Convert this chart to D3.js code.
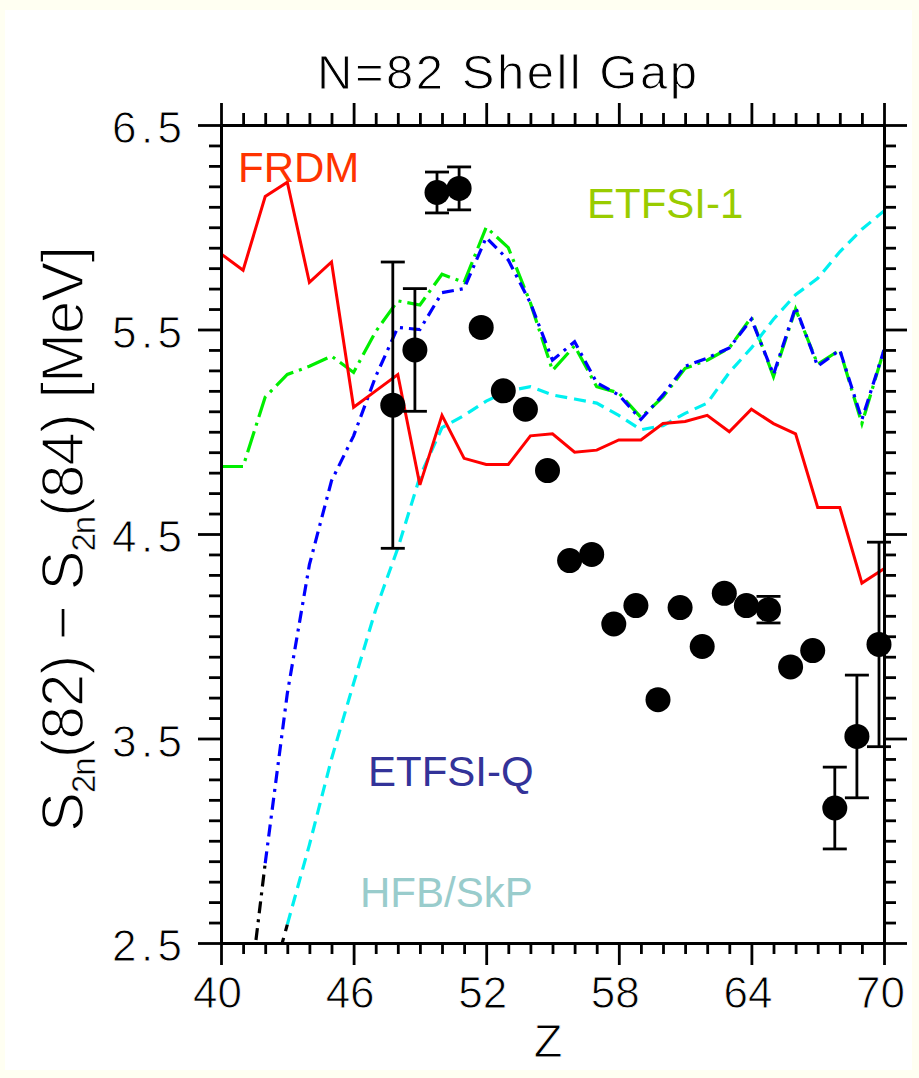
<!DOCTYPE html>
<html>
<head>
<meta charset="utf-8">
<script src="https://cdn.jsdelivr.net/npm/d3@7"></script>
<style>
  html, body { margin: 0; padding: 0; background: #fffff2; }
  svg { display: block; }
  text { font-family: "Liberation Sans", Arial, sans-serif; }
  /* thin-stroke lettering: a white outline painted over the fill slims the glyphs */
  .thin { stroke: #ffffff; paint-order: fill stroke; }
</style>
</head>
<body>
<svg id="chart" width="919" height="1078"></svg>
<script>
// ---- data -----------------------------------------------------------
// Proton number Z for the model curves
const zModel = [40,41,42,43,44,45,46,47,48,49,50,51,52,53,54,55,56,57,58,59,60,61,62,63,64,65,66,67,68,69,70];

// FRDM, Z = 40..70  (MeV)
const frdm = [5.87,5.79,6.15,6.22,5.73,5.83,5.12,5.20,5.28,4.74,5.08,4.87,4.84,4.84,4.98,4.99,
              4.90,4.91,4.96,4.96,5.04,5.05,5.08,5.00,5.11,5.04,4.99,4.63,4.63,4.26,4.33];

// ETFSI-1, Z = 40..70
const etfsi1 = [4.83,4.83,5.17,5.28,5.32,5.37,5.29,5.49,5.64,5.62,5.77,5.73,6.00,5.90,5.63,5.30,
                5.42,5.22,5.19,5.07,5.17,5.31,5.35,5.41,5.56,5.27,5.60,5.33,5.40,5.04,5.40];

// ETFSI-Q, Z = 41..70
const etfsiQ = [1.99,2.89,3.72,4.35,4.76,4.98,5.27,5.51,5.50,5.68,5.70,5.95,5.84,5.63,5.35,
                5.44,5.24,5.18,5.06,5.18,5.32,5.36,5.41,5.55,5.28,5.61,5.32,5.40,5.06,5.40];

// HFB/SkP, Z = 42..70
const hfbSkp = [2.20,2.59,2.98,3.40,3.77,4.13,4.43,4.78,5.02,5.08,5.15,5.20,5.22,5.18,5.16,
                5.14,5.08,5.01,5.03,5.09,5.14,5.29,5.41,5.55,5.67,5.75,5.88,5.99,6.08];

// Measured shell gaps with uncertainties (0 = bar hidden by the symbol)
const expZ   = [48,49,50,51,52,53,54,55,56,57,58,59,60,61,62,63,64,65,66,67,68,69,70];
const expVal = [5.13,5.40,6.17,6.19,5.51,5.20,5.11,4.81,4.37,4.40,4.06,4.15,3.69,4.14,3.95,
                4.21,4.15,4.13,3.85,3.93,3.16,3.51,3.96];
const expErr = [0.70,0.30,0.10,0.105,0,0,0,0,0,0,0,0,0,0,0,0,0,0.065,0,0,0.20,0.30,0.50];

// Axis ticks
const xMajor = [40,46,52,58,64,70];
const yMajor = [2.5,3.5,4.5,5.5,6.5];
const yMajorLabels = ["2.5","3.5","4.5","5.5","6.5"];

// Curve labels
const curveNames = ["FRDM","ETFSI-1","ETFSI-Q","HFB/SkP"];

// ---- drawing ---------------------------------------------------------
const svg = d3.select("#chart");
svg.append("rect").attr("x", 5).attr("y", 10).attr("width", 907).attr("height", 1060).attr("fill", "#ffffff");

const x = d3.scaleLinear().domain([40, 70]).range([221, 884]);
const y = d3.scaleLinear().domain([2.5, 6.5]).range([943, 125]);

svg.append("clipPath").attr("id", "plotClip")
  .append("rect").attr("x", 221).attr("y", 125).attr("width", 663).attr("height", 818);

const plot = svg.append("g").attr("clip-path", "url(#plotClip)");

const line = d3.line().x(d => x(d[0])).y(d => y(d[1]));
const pairs = (zs, vs, from) => vs.map((v, i) => [zs[i + from], v]);

const frdmPts  = pairs(zModel, frdm, 0);
const e1Pts    = pairs(zModel, etfsi1, 0);
const eqPts    = pairs(zModel, etfsiQ, 1);
const hfbPts   = pairs(zModel, hfbSkp, 2);

// ETFSI-1 (green dash-dot)
plot.append("path").attr("d", line(e1Pts)).attr("fill", "none")
  .attr("stroke", "#00ee00").attr("stroke-width", 3.2).attr("stroke-dasharray", "22,6,3,6");

// ETFSI-Q (blue dash-dot); first segment in black
plot.append("path").attr("d", line(eqPts.slice(1))).attr("fill", "none")
  .attr("stroke", "#0000ff").attr("stroke-width", 3.2).attr("stroke-dasharray", "12,6,3,6");
plot.append("path").attr("d", line(eqPts.slice(0, 2))).attr("fill", "none")
  .attr("stroke", "#000000").attr("stroke-width", 3.2).attr("stroke-dasharray", "12,6,3,6");

// HFB/SkP (cyan dashed); first segment in black
plot.append("path").attr("d", line(hfbPts.slice(1))).attr("fill", "none")
  .attr("stroke", "#00f0f0").attr("stroke-width", 3.2).attr("stroke-dasharray", "12,7");
plot.append("path").attr("d", line(hfbPts.slice(0, 2))).attr("fill", "none")
  .attr("stroke", "#000000").attr("stroke-width", 3.2).attr("stroke-dasharray", "12,7");

// FRDM (red solid)
plot.append("path").attr("d", line(frdmPts)).attr("fill", "none")
  .attr("stroke", "#ff0000").attr("stroke-width", 3).attr("stroke-linejoin", "miter");

// Measured points: the plotting symbol sits slightly left of its Z
const symbolDx = -5;
const cap = 12;
const expData = expZ.map((z, i) => ({ z, v: expVal[i], e: expErr[i] }));
const bars = svg.append("g").attr("stroke", "#000").attr("stroke-width", 2.8);
expData.filter(d => d.e > 0).forEach(d => {
  const cx = x(d.z) + symbolDx;
  bars.append("line").attr("x1", cx).attr("x2", cx).attr("y1", y(d.v + d.e)).attr("y2", y(d.v - d.e));
  bars.append("line").attr("x1", cx - cap).attr("x2", cx + cap).attr("y1", y(d.v + d.e)).attr("y2", y(d.v + d.e));
  bars.append("line").attr("x1", cx - cap).attr("x2", cx + cap).attr("y1", y(d.v - d.e)).attr("y2", y(d.v - d.e));
});
svg.append("g").selectAll("circle").data(expData).join("circle")
  .attr("cx", d => x(d.z) + symbolDx).attr("cy", d => y(d.v)).attr("r", 12.5).attr("fill", "#000");

// ---- axes ------------------------------------------------------------
const xMinor = d3.range(40, 71).filter(v => !xMajor.includes(v));
const yMinor = d3.range(25, 66).map(v => v / 10).filter(v => !yMajor.some(m => Math.abs(m - v) < 1e-6));

function styleAxis(g) {
  g.select(".domain").attr("stroke-width", 3);
  g.selectAll(".tick line").attr("stroke-width", 2.8);
  g.attr("font-family", "Liberation Sans, Arial, sans-serif").attr("font-size", 44);
}

// left
svg.append("g").attr("transform", "translate(221,0)")
  .call(d3.axisLeft(y).tickValues(yMinor).tickSize(12).tickSizeOuter(0).tickFormat("")).call(styleAxis);
const gl = svg.append("g").attr("transform", "translate(221,0)")
  .call(d3.axisLeft(y).tickValues(yMajor).tickSize(23).tickSizeOuter(0).tickPadding(16)
        .tickFormat((d, i) => yMajorLabels[i])).call(styleAxis);
gl.selectAll("text").attr("dy", "0.40em").attr("textLength", 70).attr("lengthAdjust", "spacing")
  .attr("fill", "#000").attr("class", "thin").attr("stroke-width", 0.9);

// right
svg.append("g").attr("transform", "translate(884,0)")
  .call(d3.axisRight(y).tickValues(yMinor).tickSize(12).tickSizeOuter(0).tickFormat("")).call(styleAxis);
svg.append("g").attr("transform", "translate(884,0)")
  .call(d3.axisRight(y).tickValues(yMajor).tickSize(23).tickSizeOuter(0).tickFormat("")).call(styleAxis);

// bottom
svg.append("g").attr("transform", "translate(0,943)")
  .call(d3.axisBottom(x).tickValues(xMinor).tickSize(11).tickSizeOuter(0).tickFormat("")).call(styleAxis);
const gb = svg.append("g").attr("transform", "translate(0,943)")
  .call(d3.axisBottom(x).tickValues(xMajor).tickSize(22).tickSizeOuter(0).tickPadding(12)
        .tickFormat(d3.format("d"))).call(styleAxis);
gb.selectAll("text").attr("dx", -4).attr("fill", "#000").attr("class", "thin").attr("stroke-width", 0.9);

// top
svg.append("g").attr("transform", "translate(0,125)")
  .call(d3.axisTop(x).tickValues(xMinor).tickSize(12).tickSizeOuter(0).tickFormat("")).call(styleAxis);
svg.append("g").attr("transform", "translate(0,125)")
  .call(d3.axisTop(x).tickValues(xMajor).tickSize(22).tickSizeOuter(0).tickFormat("")).call(styleAxis);

// ---- titles ----------------------------------------------------------
svg.append("text").attr("x", 507).attr("y", 89).attr("text-anchor", "middle")
  .attr("font-size", 49).attr("textLength", 380).attr("lengthAdjust", "spacing")
  .attr("class", "thin").attr("stroke-width", 1.0)
  .text("N=82 Shell Gap");

svg.append("text").attr("x", 548).attr("y", 1057).attr("text-anchor", "middle")
  .attr("font-size", 47).attr("class", "thin").attr("stroke-width", 0.9).text("Z");

const yl = svg.append("text").attr("transform", "translate(83,539) rotate(-90)")
  .attr("text-anchor", "middle").attr("font-size", 60)
  .attr("textLength", 586).attr("lengthAdjust", "spacing")
  .attr("class", "thin").attr("stroke-width", 1.5);
yl.append("tspan").text("S");
yl.append("tspan").attr("font-size", 33).attr("stroke-width", 0.5).attr("dy", 12).text("2n");
yl.append("tspan").attr("dy", -12).text("(82) \u2212 S");
yl.append("tspan").attr("font-size", 33).attr("stroke-width", 0.5).attr("dy", 12).text("2n");
yl.append("tspan").attr("dy", -12).text("(84) [MeV]");

// ---- curve labels ----------------------------------------------------
const labelStyle = [
  { x: 238, y: 182, fill: "#ff3300" },
  { x: 587, y: 218, fill: "#99cc00" },
  { x: 368, y: 786, fill: "#333399" },
  { x: 360, y: 907, fill: "#99cccc" }
];
curveNames.forEach((name, i) => {
  svg.append("text").attr("x", labelStyle[i].x).attr("y", labelStyle[i].y)
    .attr("font-size", 42).attr("fill", labelStyle[i].fill).text(name);
});
</script>
</body>
</html>
